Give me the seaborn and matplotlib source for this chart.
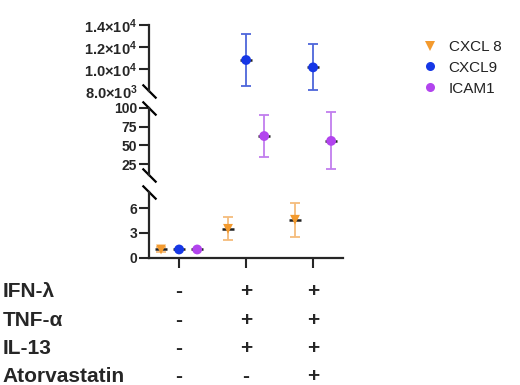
import numpy as np
import pandas as pd
import matplotlib
matplotlib.use("Agg")
import matplotlib.pyplot as plt
import matplotlib.transforms as mtrans
import seaborn as sns

sns.set_style("ticks")
plt.rcParams['font.family'] = ['Liberation Sans', 'DejaVu Sans']
plt.rcParams['mathtext.fontset'] = 'custom'
plt.rcParams['mathtext.rm'] = 'Liberation Sans:bold'
plt.rcParams['mathtext.bf'] = 'Liberation Sans:bold'

# data
genes = ['CXCL 8', 'CXCL9', 'ICAM1']
cxcl8_mean = [1.0, 3.5, 4.6]
cxcl8_sd = [0.25, 1.4, 2.05]
cxcl9_mean = [1.0, 10820, 10150]
cxcl9_sd = [0.1, 2330, 2100]
icam1_mean = [1.0, 62.5, 56]
icam1_sd = [0.1, 27.5, 38]

treat_rows = ['IFN-λ', 'TNF-α', 'IL-13', 'Atorvastatin']
treat_signs = [['-', '+', '+'],
               ['-', '+', '+'],
               ['-', '+', '+'],
               ['-', '-', '+']]

colors = {'CXCL 8': '#F39A2E', 'CXCL9': '#1637E6', 'ICAM1': '#B244EE'}
err_colors = {'CXCL 8': '#F5BC7C', 'CXCL9': '#4D66DA', 'ICAM1': '#C27EEE'}
markers = {'CXCL 8': 'v', 'CXCL9': 'o', 'ICAM1': 'o'}
offsets = {'CXCL 8': -0.27, 'CXCL9': 0.0, 'ICAM1': 0.27}

rows = []
for g, m, s in zip(genes, [cxcl8_mean, cxcl9_mean, icam1_mean],
                   [cxcl8_sd, cxcl9_sd, icam1_sd]):
    for i in range(3):
        rows.append({'gene': g, 'group': i, 'x': i + offsets[g],
                     'mean': m[i], 'sd': s[i]})
df = pd.DataFrame(rows)

fig = plt.figure(figsize=(5.2, 3.85), dpi=100)
L, W = 0.2865, 0.3735
ax_top = fig.add_axes([L, 0.7636, W, 0.1714])
ax_mid = fig.add_axes([L, 0.5447, W, 0.1748])
ax_bot = fig.add_axes([L, 0.3306, W, 0.1714])
axes = [ax_top, ax_mid, ax_bot]
lims = [(8000, 14000), (10, 100), (0, 8)]
ticks = [[10000, 12000, 14000], [25, 50, 75, 100], [0, 3, 6]]

for ax, lim, tk in zip(axes, lims, ticks):
    # only the points that fall in this segment of the broken axis
    sub = df[(df['mean'] >= lim[0]) & (df['mean'] <= lim[1])]
    for g in genes:
        d = sub[sub.gene == g]
        if len(d) == 0:
            continue
        ax.errorbar(d.x, d['mean'], yerr=d.sd, fmt='none',
                    ecolor=err_colors[g], elinewidth=1.3, capsize=3.5,
                    capthick=1.3, zorder=2)
    ax.scatter(sub.x, sub['mean'], marker='_', s=70, color='#222222',
               linewidths=1.8, zorder=2.5)
    sns.scatterplot(data=sub, x='x', y='mean', hue='gene', style='gene',
                    palette=colors, markers=markers, s=50, edgecolor='none',
                    legend=False, ax=ax, zorder=3)
    ax.set_ylim(*lim)
    ax.set_xlim(-0.45, 2.45)
    ax.set_yticks(tk)
    ax.set_xlabel('')
    ax.set_ylabel('')
    ax.spines['top'].set_visible(False)
    ax.spines['right'].set_visible(False)
    ax.spines['left'].set_linewidth(1.6)
    ax.tick_params(axis='y', width=1.5, length=7, labelsize=10, pad=1.5)
    for lbl in ax.get_yticklabels():
        lbl.set_fontweight('bold')

ax_top.set_yticks([8000, 10000, 12000, 14000])
ax_top.set_yticklabels([r'$\mathbf{8.0{\times}10^3}$', r'$\mathbf{1.0{\times}10^4}$',
                        r'$\mathbf{1.2{\times}10^4}$', r'$\mathbf{1.4{\times}10^4}$'])
ax_top.tick_params(axis='y', labelsize=10.5)
ax_top.get_yticklines()[0].set_visible(False)

for ax in [ax_top, ax_mid]:
    ax.spines['bottom'].set_visible(False)
    ax.set_xticks([])
ax_bot.spines['bottom'].set_linewidth(1.6)
ax_bot.set_xticks([0, 1, 2])
ax_bot.set_xticklabels([])
ax_bot.tick_params(axis='x', width=1.5, length=7, direction='out')

# break marks
brk = dict(marker=[(-1, 1), (1, -1)], markersize=10, color='k', mew=1.6,
           linestyle='none', clip_on=False)
ax_top.plot([0], [0], transform=ax_top.transAxes, **brk)
ax_mid.plot([0, 0], [0, 1], transform=ax_mid.transAxes, **brk)
ax_bot.plot([0], [1], transform=ax_bot.transAxes, **brk)

# legend
handles = [plt.Line2D([], [], marker=markers[g], color=colors[g], linestyle='none',
                      markersize=6.5, markeredgewidth=0) for g in genes]
fig.legend(handles, genes, loc='upper left', bbox_to_anchor=(0.785, 0.932),
           frameon=False, fontsize=11, handletextpad=0.75, labelspacing=0.45,
           handlelength=1.0, labelcolor='#222222')

# treatment table
trans = mtrans.blended_transform_factory(ax_bot.transData, fig.transFigure)
row_y = [1 - 291.7 / 385, 1 - 320.7 / 385, 1 - 349 / 385, 1 - 376.7 / 385]
for name, signs, y in zip(treat_rows, treat_signs, row_y):
    fig.text(0.005, y, name, fontsize=15, fontweight='bold', va='center', ha='left')
    for i, s in enumerate(signs):
        ax_bot.text(i, y, s, transform=trans, fontsize=15, fontweight='bold',
                    va='center', ha='center')

fig.savefig('out.png', dpi=100)
